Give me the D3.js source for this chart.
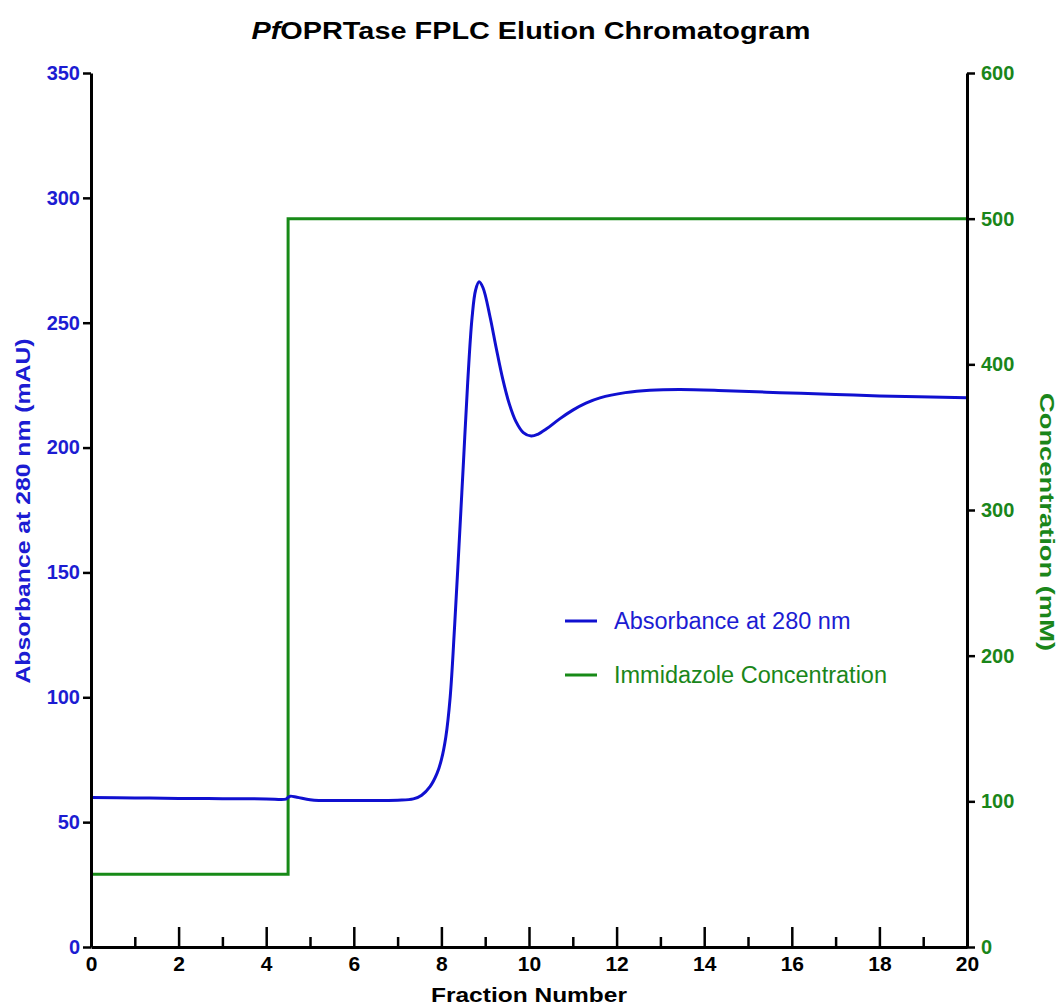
<!DOCTYPE html>
<html>
<head>
<meta charset="utf-8">
<script src="https://cdn.jsdelivr.net/npm/d3@7"></script>
<style>
  body { margin: 0; background: #fff; }
  text { font-family: "Liberation Sans", Arial, sans-serif; }
</style>
</head>
<body>
<svg id="chart"></svg>
<script>
// absorbance trace (fraction number, mAU)
var fractions  = [0, 1, 2, 3, 4, 4.45, 4.5, 4.55, 4.7, 5.0, 5.2, 6, 7, 7.36, 7.55, 7.74, 7.9, 8.0, 8.1, 8.2, 8.3, 8.4, 8.5, 8.6, 8.7, 8.78, 8.86, 8.95, 9.11, 9.25, 9.4, 9.55, 9.7, 9.87, 10.05, 10.2, 10.4, 10.7, 11.0, 11.3, 11.62, 12.2, 12.76, 13.45, 14.5, 15.73, 17, 18, 20];
var absorbance = [59.9, 59.7, 59.5, 59.4, 59.3, 59.2, 59.9, 60.4, 60.0, 59.0, 58.7, 58.7, 58.8, 59.3, 60.8, 64.2, 69.5, 75, 84, 100, 128, 160, 193, 226, 252, 263, 266.4, 264, 252.4, 240, 227.5, 217.5, 210.5, 206, 204.6, 205.3, 207.5, 211.5, 215, 217.8, 219.9, 222, 223, 223.3, 222.8, 222, 221.3, 220.7, 220];

// imidazole step gradient (fraction number, mM)
var gradX = [0, 4.5, 4.5, 20];
var gradY = [50, 50, 500, 500];

var xTicks = [0, 2, 4, 6, 8, 10, 12, 14, 16, 18, 20];
var xMinor = [1, 3, 5, 7, 9, 11, 13, 15, 17, 19];
var leftTicks = [0, 50, 100, 150, 200, 250, 300, 350];
var rightTicks = [0, 100, 200, 300, 400, 500, 600];

var legendNames = ["Absorbance at 280 nm", "Immidazole Concentration"];

var blue = "#1010d0", blueText = "#1c1cd2";
var green = "#178a17", greenText = "#1a861a";

var W = 1062, H = 1007;
var margin = {top: 73, right: 95, bottom: 60, left: 91},
    width = W - margin.left - margin.right,
    height = H - margin.top - margin.bottom;

var svg = d3.select("#chart").attr("width", W).attr("height", H);
var g = svg.append("g").attr("transform", "translate(" + margin.left + "," + margin.top + ")");

var x = d3.scaleLinear().domain([0, 20]).range([0, width]);
var yL = d3.scaleLinear().domain([0, 350]).range([height, 0]);
var yR = d3.scaleLinear().domain([0, 600]).range([height, 0]);

// lines
var gradLine = d3.line()
  .x(function(d) { return x(d[0]); })
  .y(function(d) { return yR(d[1]); });
g.append("path")
  .attr("d", gradLine(gradX.map(function(v, i) { return [v, gradY[i]]; })))
  .attr("fill", "none")
  .attr("stroke", green)
  .attr("stroke-width", 3);

var absLine = d3.line()
  .x(function(d) { return x(d[0]); })
  .y(function(d) { return yL(d[1]); })
  .curve(d3.curveCatmullRom.alpha(0.5));
g.append("path")
  .attr("d", absLine(fractions.map(function(v, i) { return [v, absorbance[i]]; })))
  .attr("fill", "none")
  .attr("stroke", blue)
  .attr("stroke-width", 3);

// axes
function styleAxis(sel, col) {
  sel.select(".domain").attr("stroke", "#000").attr("stroke-width", 3);
  sel.selectAll(".tick line").attr("stroke", "#000").attr("stroke-width", 2.5);
  sel.selectAll(".tick text")
    .attr("fill", col)
    .attr("font-size", "20px")
    .attr("font-weight", "bold");
}

var xAxis = g.append("g")
  .attr("transform", "translate(0," + height + ")")
  .call(d3.axisBottom(x).tickValues(xTicks).tickSize(-20).tickSizeOuter(0).tickPadding(9));
styleAxis(xAxis, "#000");
xAxis.selectAll(".tick text").attr("font-size", "21px");

var xMinorAxis = g.append("g")
  .attr("transform", "translate(0," + height + ")")
  .call(d3.axisBottom(x).tickValues(xMinor).tickSize(-10).tickSizeOuter(0).tickFormat(""));
xMinorAxis.select(".domain").remove();
xMinorAxis.selectAll(".tick line").attr("stroke", "#000").attr("stroke-width", 2.5);

var lAxis = g.append("g")
  .call(d3.axisLeft(yL).tickValues(leftTicks).tickSize(8).tickSizeOuter(0).tickPadding(3));
styleAxis(lAxis, blueText);

var rAxis = g.append("g")
  .attr("transform", "translate(" + width + ",0)")
  .call(d3.axisRight(yR).tickValues(rightTicks).tickSize(8).tickSizeOuter(0).tickPadding(6));
styleAxis(rAxis, greenText);

// titles
var title = svg.append("text")
  .attr("x", 531).attr("y", 39)
  .attr("text-anchor", "middle")
  .attr("font-size", "24px")
  .attr("font-weight", "bold")
  .attr("textLength", 559)
  .attr("lengthAdjust", "spacingAndGlyphs");
title.append("tspan").attr("font-style", "italic").text("Pf");
title.append("tspan").text("OPRTase FPLC Elution Chromatogram");

svg.append("text")
  .text("Fraction Number")
  .attr("x", 529).attr("y", 1002)
  .attr("text-anchor", "middle")
  .attr("font-size", "21px")
  .attr("font-weight", "bold")
  .attr("textLength", 196)
  .attr("lengthAdjust", "spacingAndGlyphs");

svg.append("text")
  .text("Absorbance at 280 nm (mAU)")
  .attr("transform", "translate(30,511) rotate(-90)")
  .attr("text-anchor", "middle")
  .attr("font-size", "21px")
  .attr("font-weight", "bold")
  .attr("fill", blueText)
  .attr("textLength", 345)
  .attr("lengthAdjust", "spacingAndGlyphs");

svg.append("text")
  .text("Concentration (mM)")
  .attr("transform", "translate(1040,522) rotate(90)")
  .attr("text-anchor", "middle")
  .attr("font-size", "21px")
  .attr("font-weight", "bold")
  .attr("fill", greenText)
  .attr("textLength", 258)
  .attr("lengthAdjust", "spacingAndGlyphs");

// legend
var legend = svg.selectAll(".legend")
  .data(legendNames)
  .enter().append("g")
  .attr("class", "legend")
  .attr("transform", function(d, i) { return "translate(565," + (621 + i * 54) + ")"; });
legend.append("line")
  .attr("x1", 0).attr("x2", 32)
  .attr("stroke", function(d, i) { return i ? green : blue; })
  .attr("stroke-width", 3);
legend.append("text")
  .text(function(d) { return d; })
  .attr("x", 49).attr("y", 8)
  .attr("font-size", "23.5px")
  .attr("fill", function(d, i) { return i ? greenText : blueText; });
</script>
</body>
</html>
